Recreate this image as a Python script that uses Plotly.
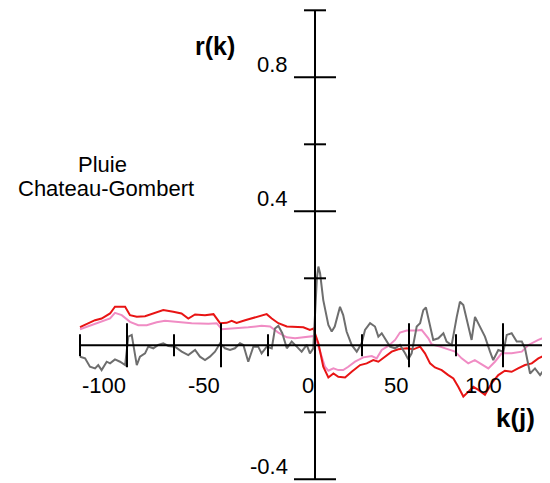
import plotly.graph_objects as go

# ---------------- data ----------------
red_k = [-125, -120.6, -117, -113.5, -109, -106.4, -101, -98.4, -94.8, -90.4, -85, -80.7, -75.4, -71,
         -67.4, -63.8, -58.5, -54, -50.5, -47, -44.3, -41.7, -37.2, -31.9, -25.7, -23, -19.5, -15,
         -10.6, -6.2, -2.7, -0.9, 1.8, 4.4, 7.1, 9.8, 12.4, 16, 19.5, 24, 27.5, 31, 33.7, 37.2, 40.8,
         44.3, 48.8, 52.3, 55.9, 58.5, 61.2, 63.8, 67.4, 70.9, 73.6, 76.2, 78.9, 81.5, 84.2, 86.9,
         90.4, 94, 97.5, 101, 104.6, 108, 111.7, 115.3, 118.8, 122.3, 125]
red_r = [0.054, 0.066, 0.075, 0.08, 0.095, 0.115, 0.115, 0.09, 0.085, 0.087, 0.097, 0.105, 0.10, 0.095,
         0.08, 0.092, 0.09, 0.093, 0.066, 0.067, 0.073, 0.067, 0.075, 0.083, 0.093, 0.08, 0.066, 0.056,
         0.054, 0.054, 0.046, 0.05, 0.006, -0.064, -0.096, -0.084, -0.094, -0.096, -0.079, -0.059, -0.054,
         -0.044, -0.049, -0.034, -0.019, -0.012, -0.009, -0.012, -0.004, -0.024, -0.054, -0.066, -0.074,
         -0.089, -0.099, -0.124, -0.153, -0.139, -0.124, -0.133, -0.148, -0.113, -0.089, -0.076, -0.079,
         -0.069, -0.059, -0.054, -0.039, -0.029, -0.019]

pink_k = [-125, -118.8, -113.5, -109, -106.4, -102.8, -98.4, -94, -89.5, -84.2, -79.8, -74.5, -70, -65.6,
          -56.7, -52.3, -49.6, -42.6, -35.5, -28.4, -23.9, -19.5, -15, -10.6, -5.3, -1.8, 0, 2.7, 5.3,
          7.1, 9.8, 12.4, 15, 17.7, 21.3, 25.7, 30.2, 32.8, 35.5, 39, 42.6, 45.2, 48.8, 54.1, 56.7, 60.3,
          62, 66.5, 70.9, 74.5, 78, 81.5, 85, 88.7, 92.2, 95.7, 99.3, 104.6, 110, 113.5, 118.8, 125]
pink_r = [0.048, 0.06, 0.07, 0.08, 0.097, 0.09, 0.07, 0.06, 0.06, 0.069, 0.073, 0.07, 0.069, 0.066,
          0.064, 0.066, 0.048, 0.05, 0.054, 0.058, 0.056, 0.038, 0.024, 0.021, 0.024, 0.026, 0.028, -0.019,
          -0.064, -0.076, -0.069, -0.074, -0.074, -0.064, -0.049, -0.036, -0.032, -0.039, -0.014, -0.002,
          0.016, 0.038, 0.044, 0.044, 0.046, 0.021, 0.003, -0.004, -0.012, -0.019, -0.039, -0.054, -0.044,
          -0.056, -0.069, -0.049, -0.024, -0.024, -0.019, 0.001, 0.016, 0.031]

gray_k = [-125, -122.3, -119.7, -117, -115.3, -113.5, -110.8, -109, -106.4, -103.7, -101, -99.3, -97.5,
          -94.8, -93.1, -90.4, -88.7, -86, -83.4, -80.7, -78, -74.5, -70.9, -67.4, -63.8, -61.2, -58.5,
          -55.9, -53.2, -50.5, -47.9, -45.2, -42.6, -39.9, -38.1, -35.5, -32.8, -30.2, -28.4, -25.7, -23,
          -21.3, -19.5, -17.4, -15, -12.4, -9.7, -7.1, -4.4, -2.7, -0.9, 1.0, 1.8, 2.7, 4.4, 7.1, 8.9,
          10.5, 13.3, 15, 16.8, 19.5, 22.2, 24.8, 26.6, 29.3, 31.9, 33.7, 35.5, 37.2, 39.9, 42.6, 45.2,
          47.9, 49.6, 51.4, 54.1, 55.9, 57.6, 59, 61.2, 62.9, 65.6, 68.3, 70, 72.7, 75.4, 77.1, 78.9, 80.7,
          83.3, 85.1, 87.8, 90.4, 93.1, 94.8, 97.5, 100.2, 102, 104.6, 107.3, 110, 111.7, 114.4, 117,
          119.7, 122.3, 125]
gray_r = [-0.034, -0.039, -0.064, -0.069, -0.059, -0.074, -0.049, -0.054, -0.042, -0.049, -0.059, 0.026,
          0.031, -0.059, -0.034, -0.024, -0.004, -0.009, 0.001, 0.006, -0.002, -0.004, -0.019, -0.029,
          -0.014, -0.034, -0.044, -0.034, -0.019, 0.006, -0.009, -0.014, -0.009, 0.006, 0.001, -0.049,
          -0.004, -0.004, -0.024, -0.004, -0.009, 0.05, 0.058, 0.036, -0.009, 0.011, -0.004, -0.019, 0.001,
          -0.024, -0.009, 0.20, 0.235, 0.215, 0.135, 0.061, 0.041, 0.056, 0.115, 0.09, 0.041, 0.001, -0.019,
          0.006, 0.046, 0.066, 0.056, 0.026, 0.036, 0.021, -0.004, -0.009, 0.001, -0.024, -0.042, -0.024,
          0.056, 0.066, 0.105, 0.113, 0.056, 0.016, 0.021, 0.036, 0.011, 0.001, 0.085, 0.13, 0.12, 0.076,
          0.016, 0.085, 0.056, 0.026, -0.019, -0.044, -0.014, -0.019, 0.031, 0.036, 0.011, 0.011, -0.009,
          -0.084, -0.069, -0.089, -0.069, -0.059]

x_major = [-100, -50, 0, 50, 100]
x_minor = [-125, -75, -25, 25, 75, 125]
x_labels = ["-100", "-50", "0", "50", "100"]
y_major = [0.8, 0.4, -0.4]
y_minor = [1.0, 0.6, 0.2, -0.2]
y_labels = ["0.8", "0.4", "-0.4"]

assert len(red_k) == len(red_r) and len(pink_k) == len(pink_r) and len(gray_k) == len(gray_r)

# ---------------- figure ----------------
# the page body has an 8px margin, so the figure is drawn 8px smaller and offset
OFF = 8
W, H = 550 - OFF, 483 - OFF
X0_PX, Y0_PX = 315 - OFF, 345.3 - OFF      # pixel position of the origin inside the figure
PX_PER_K, PX_PER_R = 1.88, 335.0
X_RANGE = [-X0_PX / PX_PER_K, (W - X0_PX) / PX_PER_K]
Y_RANGE = [(Y0_PX - H) / PX_PER_R, Y0_PX / PX_PER_R]

FONT = "Liberation Sans, Arial, sans-serif"

fig = go.Figure()
fig.add_trace(go.Scatter(x=pink_k, y=pink_r, mode="lines", line=dict(color="#f08cc4", width=2)))
fig.add_trace(go.Scatter(x=red_k, y=red_r, mode="lines", line=dict(color="#e81414", width=2)))
fig.add_trace(go.Scatter(x=gray_k, y=gray_r, mode="lines", line=dict(color="#6e6e6e", width=2)))

shapes = []
axis_line = dict(color="black", width=2)
shapes.append(dict(type="line", x0=min(x_minor), x1=max(x_minor), y0=0, y1=0, xref="x", yref="y",
                   line=axis_line, layer="above"))
shapes.append(dict(type="line", x0=0, x1=0, y0=max(y_minor), y1=min(y_major), xref="x", yref="y",
                   line=axis_line, layer="above"))
for xv in x_major:
    d = 22 / PX_PER_R
    shapes.append(dict(type="line", x0=xv, x1=xv, y0=-d, y1=d, line=axis_line, layer="above"))
for xv in x_minor:
    d = 11 / PX_PER_R
    shapes.append(dict(type="line", x0=xv, x1=xv, y0=-d, y1=d, line=axis_line, layer="above"))
for yv in y_major:
    d = 21 / PX_PER_K
    shapes.append(dict(type="line", x0=-d, x1=d, y0=yv, y1=yv, line=axis_line, layer="above"))
for yv in y_minor:
    d = 11 / PX_PER_K
    shapes.append(dict(type="line", x0=-d, x1=d, y0=yv, y1=yv, line=axis_line, layer="above"))

ann = []
for xv, lab in zip(x_major, x_labels):
    ann.append(dict(x=xv, y=0, xref="x", yref="y", text=lab, showarrow=False, xanchor="right",
                    yanchor="middle", xshift=1, yshift=-40, font=dict(family=FONT, size=22, color="black")))
for yv, lab in zip(y_major, y_labels):
    ann.append(dict(x=0, y=yv, xref="x", yref="y", text=lab, showarrow=False, xanchor="right",
                    yanchor="middle", xshift=-25, yshift=13, font=dict(family=FONT, size=22, color="black")))

def paper(px, py):
    return (px - OFF) / W, 1 - (py - OFF) / H

for txt, (cx, cy), size, bold in [("r(k)", (214.5, 46), 25, True), ("k(j)", (515, 417.5), 26, True),
                                  ("Pluie", (102, 164), 22, False), ("Chateau-Gombert", (106, 189), 22, False)]:
    xp, yp = paper(cx, cy)
    ann.append(dict(x=xp, y=yp, xref="paper", yref="paper", text=f"<b>{txt}</b>" if bold else txt,
                    showarrow=False, xanchor="center", yanchor="middle",
                    font=dict(family=FONT, size=size, color="black")))

fig.update_layout(
    width=W, height=H, margin=dict(l=0, r=0, t=0, b=0),
    paper_bgcolor="white", plot_bgcolor="white", showlegend=False,
    xaxis=dict(range=X_RANGE, visible=False, fixedrange=True),
    yaxis=dict(range=Y_RANGE, visible=False, fixedrange=True),
    shapes=shapes, annotations=ann,
)
fig.write_html("out.html")
